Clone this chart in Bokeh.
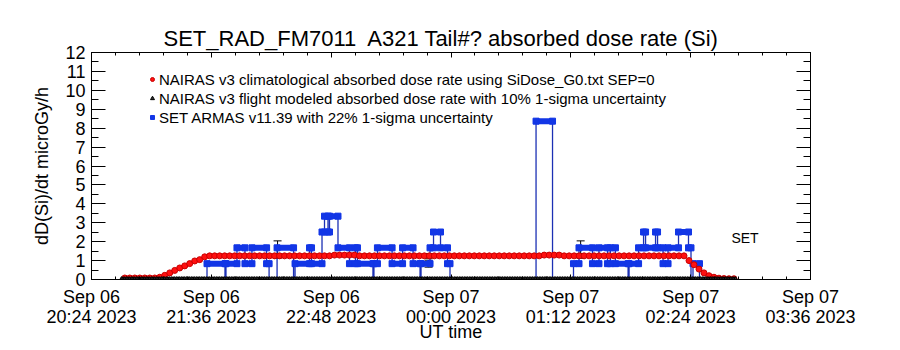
from bokeh.plotting import figure
from bokeh.models import (FixedTicker, LinearAxis, Range1d, ColumnDataSource, Whisker,
                          TeeHead, Legend, LegendItem, Label)
from bokeh.embed import file_html
from bokeh.resources import INLINE

FONT = "Liberation Sans"

# ---------------- data (time in minutes after 2023-09-06 20:24 UT) ----------------
title_text = "SET_RAD_FM7011\u00a0 A321 Tail#? absorbed dose rate (Si)"
x_ticks = [0, 72, 144, 216, 288, 360, 432]
x_tick_labels = ["Sep 06\n20:24 2023", "Sep 06\n21:36 2023", "Sep 06\n22:48 2023",
                 "Sep 07\n00:00 2023", "Sep 07\n01:12 2023", "Sep 07\n02:24 2023",
                 "Sep 07\n03:36 2023"]
y_ticks = list(range(0, 13))

# NAIRAS v3 climatological dose rate (red)
clim_t = list(range(20, 387, 3))
clim_v = ([0.08] * 7
          + [0.12, 0.22, 0.35, 0.48, 0.61, 0.72, 0.84, 0.98, 1.05, 1.20]
          + [1.25] * 25 + [1.29] * 5 + [1.25] * 37 + [1.29] * 4 + [1.25] * 25
          + [1.00, 0.78, 0.55, 0.35, 0.20, 0.12, 0.07, 0.05, 0.04, 0.04])

# NAIRAS v3 flight modeled dose rate (black triangles)
flight_t = list(range(18, 388, 1))
flight_v = [0.0] * len(flight_t)

# SET ARMAS measured dose rate: start time of each constant run and its level
set_t = [17.4, 69.4, 80.2, 80.8, 87.4, 92.2, 96.4, 105.2, 106.7, 111.5, 121.4, 122.3,
         131.0, 132.2, 138.5, 140.0, 142.1, 143.0, 148.1, 155.0, 158.6, 159.8, 169.1,
         169.7, 171.8, 180.6, 186.9, 193.2, 197.4, 198.0, 203.4, 205.5, 209.7, 213.9,
         215.4, 267.1, 277.0, 289.6, 292.9, 301.0, 304.9, 310.0, 311.8, 314.8, 322.4,
         323.0, 328.7, 331.7, 332.9, 338.9, 340.1, 343.4, 346.4, 352.7, 358.7, 360.2,
         361.4, 365.3]
set_v = [0.0, 0.837, 0.0, 0.837, 1.674, 0.837, 1.674, 0.837, 0.0, 1.674, 0.0, 0.837,
         1.674, 0.837, 2.511, 3.348, 2.511, 3.348, 1.674, 0.837, 1.674, 0.837, 0.0,
         0.837, 1.674, 0.837, 1.674, 0.837, 0.0, 0.837, 1.674, 2.511, 1.674, 0.837,
         0.0, 8.37, 0.0, 0.837, 1.674, 0.837, 1.674, 0.837, 1.674, 0.837, 0.0,
         0.837, 1.674, 2.511, 1.674, 2.511, 1.674, 0.837, 1.674, 2.511, 1.674, 0.0,
         0.837, 0.0]
set_end = 386.9

# error bars: time, SET value (22 %), NAIRAS flight value (10 %)
err_t = [111.8, 202.5, 293.9]
err_set_v = [1.674, 0.837, 1.674]
err_nairas_v = [1.25, 1.25, 1.25]
set_sigma = 0.22
nairas_sigma = 0.10

legend_labels = ["NAIRAS v3 climatological absorbed dose rate using SiDose_G0.txt SEP=0",
                 "NAIRAS v3 flight modeled absorbed dose rate with 10% 1-sigma uncertainty",
                 "SET ARMAS v11.39 with 22% 1-sigma uncertainty"]

# ---------------- figure ----------------
p = figure(width=900, height=350, x_range=Range1d(0, 432), y_range=Range1d(0, 12),
           output_backend="svg", toolbar_location=None,
           min_border_left=91, min_border_right=90, min_border_top=52, min_border_bottom=71)
p.xgrid.visible = False
p.ygrid.visible = False
p.outline_line_color = "black"
p.background_fill_color = "white"
p.border_fill_color = "white"

p.title.text = title_text
p.title.align = "left"
p.title.offset = 72
p.title.text_font = FONT
p.title.text_font_size = "22px"
p.title.text_font_style = "normal"
p.title.text_color = "black"
p.title.standoff = 4

x_minor = [round(14.4 * k, 3) for k in range(31)]
y_minor = [k * 0.5 for k in range(25)]

def style_axis(ax, major_in, minor_in):
    ax.major_tick_in = major_in
    ax.major_tick_out = 0
    ax.minor_tick_in = minor_in
    ax.minor_tick_out = 0
    ax.axis_line_color = "black"
    ax.major_tick_line_color = "black"
    ax.minor_tick_line_color = "black"
    ax.major_label_text_font = FONT
    ax.major_label_text_color = "black"
    ax.axis_label_text_font = FONT
    ax.axis_label_text_font_style = "normal"
    ax.axis_label_text_color = "black"

xa = p.xaxis[0]
xa.ticker = FixedTicker(ticks=x_ticks, minor_ticks=x_minor)
xa.major_label_overrides = dict(zip(x_ticks, x_tick_labels))
style_axis(xa, 5, 3)
xa.major_label_text_font_size = "18px"
xa.major_label_text_line_height = 1.0
xa.major_label_standoff = 7
xa.axis_label = "UT time"
xa.axis_label_text_font_size = "18px"
xa.axis_label_text_line_height = 1.0
xa.axis_label_standoff = -8

ya = p.yaxis[0]
ya.ticker = FixedTicker(ticks=y_ticks, minor_ticks=y_minor)
style_axis(ya, 14, 7)
ya.major_label_text_font_size = "18px"
ya.major_label_standoff = 6
ya.axis_label = "dD(Si)/dt microGy/h"
ya.axis_label_text_font_size = "18px"
ya.axis_label_standoff = 10

# frame ticks on top and right (no labels drawn)
top = LinearAxis(ticker=FixedTicker(ticks=x_ticks, minor_ticks=x_minor))
style_axis(top, 5, 3)
top.major_label_text_font_size = "1px"
top.major_label_text_color = None
top.major_label_standoff = 0
p.add_layout(top, "above")

right = LinearAxis(ticker=FixedTicker(ticks=y_ticks, minor_ticks=y_minor))
style_axis(right, 14, 7)
right.major_label_text_font_size = "1px"
right.major_label_text_color = None
right.major_label_standoff = 0
p.add_layout(right, "right")

# ---------------- SET ARMAS (blue) ----------------
BLUE = "#1236e6"
step_x = set_t + [set_end]
step_y = set_v + [set_v[-1]]
p.step(step_x, step_y, mode="after", line_color="#1c30b4", line_width=1.3)

nxt = set_t[1:] + [set_end]
bar = dict(x0=[], x1=[], y=[])
for a, b, v in zip(set_t, nxt, set_v):
    if v > 0:
        bar["x0"].append(a)
        bar["x1"].append(b)
        bar["y"].append(v)
bar_src = ColumnDataSource(bar)
p.segment(x0="x0", x1="x1", y0="y", y1="y", source=bar_src, line_color=BLUE,
          line_width=6, line_cap="round")
set_pts = ColumnDataSource(dict(x=bar["x0"] + bar["x1"], y=bar["y"] + bar["y"]))
blue_r = p.scatter("x", "y", source=set_pts, marker="square", size=6,
                   fill_color=BLUE, line_color=BLUE)

# ---------------- NAIRAS climatological (red) ----------------
red_r = p.scatter(clim_t, clim_v, marker="circle", size=6, fill_color="#ff1010",
                  line_color="#c80000", line_width=1)

# ---------------- NAIRAS flight modeled (black triangles) ----------------
black_r = p.scatter(flight_t, flight_v, marker="triangle", size=5, fill_color="#333333",
                    line_color="black", line_width=1)

# ---------------- error bars ----------------
err_src = ColumnDataSource(dict(
    t=err_t + err_t,
    upper=[v * (1 + set_sigma) for v in err_set_v] + [v * (1 + nairas_sigma) for v in err_nairas_v],
    lower=[v * (1 - set_sigma) for v in err_set_v] + [v * (1 - nairas_sigma) for v in err_nairas_v],
))
p.add_layout(Whisker(base="t", upper="upper", lower="lower", source=err_src,
                     dimension="height", line_color="black", line_width=1,
                     upper_head=TeeHead(size=8, line_color="black", line_width=1),
                     lower_head=TeeHead(size=8, line_color="black", line_width=1)))

# ---------------- SET label ----------------
p.add_layout(Label(x=384.5, y=2.2, text="SET", text_font=FONT, text_font_size="14px",
                   text_baseline="middle", text_align="left", text_color="black"))

# ---------------- legend ----------------
legend = Legend(items=[LegendItem(label=legend_labels[0], renderers=[red_r]),
                       LegendItem(label=legend_labels[1], renderers=[black_r]),
                       LegendItem(label=legend_labels[2], renderers=[blue_r])],
                location=(56, 153), orientation="vertical", padding=0, margin=0,
                spacing=1, glyph_width=10, glyph_height=18, label_height=18,
                label_standoff=2, label_text_font=FONT, label_text_font_size="15px",
                label_text_color="black", background_fill_alpha=0, border_line_alpha=0)
p.add_layout(legend)

open("out.html", "w").write(file_html(p, INLINE))
